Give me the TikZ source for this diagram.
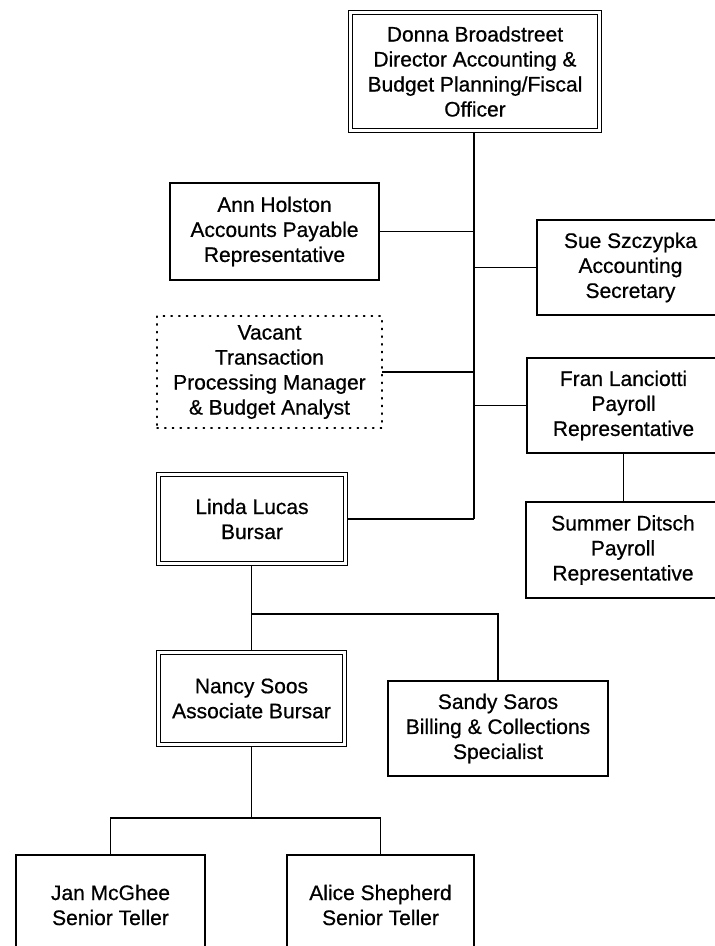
\documentclass[tikz,border=0pt]{standalone}
\usepackage{fontspec}
\setmainfont{Liberation Sans}
\usetikzlibrary{backgrounds}
\newfontfamily\chartfont[FakeBold=0.6]{Liberation Sans}

\pgfdeclarelayer{paper}
\pgfsetlayers{paper,background,main}

\tikzset{
  box/.style={draw, rectangle, line width=1.4pt, inner sep=0pt, outer sep=0pt,
    align=center, font=\chartfont\fontsize{21}{25}\selectfont},
  headbox/.style={box, line width=1pt, double, double distance=3pt},
  vacantbox/.style={box, line width=1.4pt, dash pattern=on 1.3pt off 6.4pt, line cap=round},
  link/.style={draw, line width=1.5pt},
  trunk/.style={draw, line width=1.9pt}
}

\begin{document}
\begin{tikzpicture}[x=1pt,y=-1pt]
  \useasboundingbox (0,0) rectangle (715,946);
  \clip (0,0) rectangle (715,946);
  \begin{pgfonlayer}{paper}
    \fill[white] (0,0) rectangle (715,946);
  \end{pgfonlayer}

  % positions
  \node[headbox, minimum width=249pt, minimum height=118pt] (donna) at (475,71.5)
    {Donna Broadstreet\\Director Accounting \&\\Budget Planning/Fiscal\\Officer};
  \node[box, minimum width=209pt, minimum height=97pt] (ann) at (274.5,231.5)
    {Ann Holston\\Accounts Payable\\Representative};
  \node[box, minimum width=187pt, minimum height=95pt] (sue) at (630.5,267.5)
    {Sue Szczypka\\Accounting\\Secretary};
  \node[vacantbox, minimum width=225pt, minimum height=112pt] (vacant) at (269.5,372)
    {Vacant\\Transaction\\Processing Manager\\\& Budget Analyst};
  \node[box, minimum width=193pt, minimum height=95pt] (fran) at (623.5,405.5)
    {Fran Lanciotti\\Payroll\\Representative};
  \node[box, minimum width=194pt, minimum height=96pt] (summer) at (623,550)
    {Summer Ditsch\\Payroll\\Representative};
  \node[headbox, minimum width=187pt, minimum height=89pt] (linda) at (252,519)
    {Linda Lucas\\Bursar};
  \node[headbox, minimum width=186pt, minimum height=92pt] (nancy) at (251.5,698.5)
    {Nancy Soos\\Associate Bursar};
  \node[box, minimum width=220pt, minimum height=95pt] (sandy) at (498,728.5)
    {Sandy Saros\\Billing \& Collections\\Specialist};
  \node[box, minimum width=189pt, minimum height=100pt] (jan) at (110.5,905)
    {Jan McGhee\\Senior Teller};
  \node[box, minimum width=187pt, minimum height=100pt] (alice) at (380.5,905)
    {Alice Shepherd\\Senior Teller};

  % junction points of the connector tree
  \coordinate (trunkbot) at (474,519);
  \coordinate (bursarsplit) at (251.5,614);
  \coordinate (tellersplit) at (251.5,818);

  \begin{pgfonlayer}{background}
    % director's trunk and its branches
    \path[trunk] (donna.south -| trunkbot) -- (trunkbot);
    \path[link] (ann.east) -- (ann.east -| trunkbot);
    \path[link] (sue.west) -- (sue.west -| trunkbot);
    \path[link] (vacant.east) -- (vacant.east -| trunkbot);
    \path[link] (fran.west) -- (fran.west -| trunkbot);
    \path[link] (linda.east) -- (trunkbot);
    \path[link] (fran.south) -- (summer.north -| fran.south);
    % bursar's office
    \path[link] (linda.south -| bursarsplit) -- (nancy.north);
    \path[link] (bursarsplit) -| (sandy.north);
    \path[link] (nancy.south) -- (tellersplit);
    \path[link] (jan.north) |- (tellersplit) -| (alice.north);
  \end{pgfonlayer}
\end{tikzpicture}
\end{document}
